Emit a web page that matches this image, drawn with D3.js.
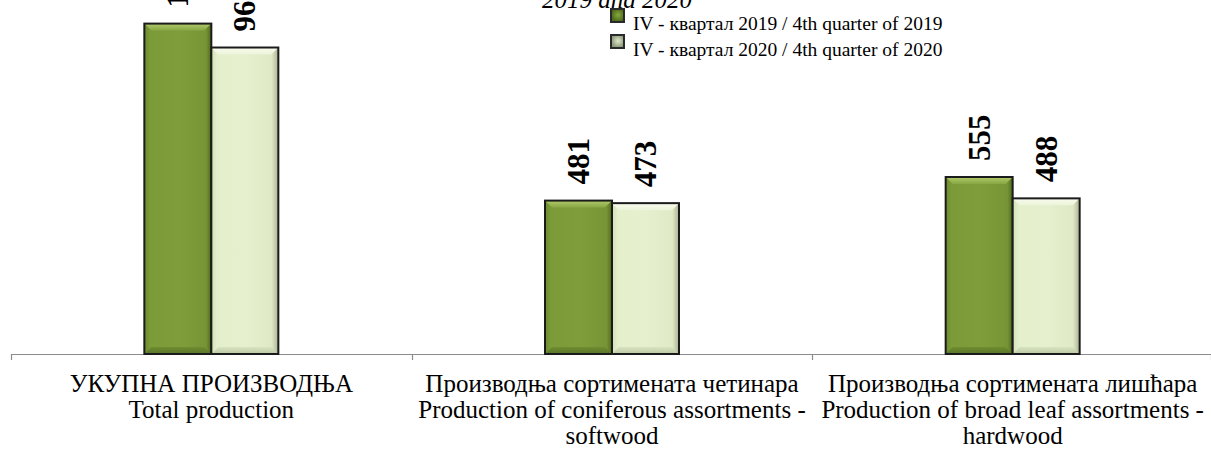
<!DOCTYPE html>
<html><head><meta charset="utf-8">
<script src="https://cdn.jsdelivr.net/npm/d3@7"></script>
<style>
html,body{margin:0;padding:0;background:#fff;}
svg{display:block;}
</style></head>
<body>
<svg id="chart" width="1211" height="451"></svg>
<script>
const categories = ["total", "conifer", "broadleaf"];
const categoryLines = [
  ["УКУПНА ПРОИЗВОДЊА", "Total production"],
  ["Производња сортимената четинара", "Production of coniferous assortments -", "softwood"],
  ["Производња сортимената лишћара", "Production of broad leaf assortments -", "hardwood"]
];
const seriesNames = ["IV - квартал 2019 / 4th quarter of 2019", "IV - квартал 2020 / 4th quarter of 2020"];
const values2019 = [1036, 481, 555];
const values2020 = [961, 473, 488];
const titleTail = "2019 and 2020";

const svg = d3.select("#chart");
const W = 1211, H = 451;
const baseY = 354;

const x0 = d3.scaleBand().domain(categories).range([11, 1213]).paddingInner(0).paddingOuter(0);
const x1 = d3.scaleBand().domain([0, 1]).range([0, x0.bandwidth()]).paddingInner(0).paddingOuter(1.99);
const y = d3.scaleLinear().domain([0, 1110]).range([baseY, 0]);

const defs = svg.append("defs");
function hgrad(id, stops) {
  const g = defs.append("linearGradient").attr("id", id).attr("x1", 0).attr("x2", 1).attr("y1", 0).attr("y2", 0);
  stops.forEach(s => g.append("stop").attr("offset", s[0]).attr("stop-color", s[1]));
}
function vgrad(id, stops) {
  const g = defs.append("linearGradient").attr("id", id).attr("x1", 0).attr("x2", 0).attr("y1", 0).attr("y2", 1);
  stops.forEach(s => g.append("stop").attr("offset", s[0]).attr("stop-color", s[1]));
}
hgrad("g2019", [[0, "#6b8a2c"], [0.08, "#7b9a38"], [0.5, "#7f9e3b"], [0.92, "#779535"], [1, "#4f6a1e"]]);
hgrad("g2020", [[0, "#d3e0b6"], [0.08, "#e4efcb"], [0.5, "#e6f0cf"], [0.9, "#dfe9c6"], [1, "#a9b294"]]);
vgrad("t2019", [[0, "#b0ca6a"], [1, "#88a744"]]);
vgrad("t2020", [[0, "#f8fcef"], [1, "#ecf4d9"]]);
vgrad("b2019", [[0, "#6f8d2f"], [1, "#58752a"]]);
vgrad("b2020", [[0, "#d8e3c0"], [1, "#bcc7a4"]]);

const series = [
  {name: seriesNames[0], values: values2019, fill: "url(#g2019)", top: "url(#t2019)", bot: "url(#b2019)"},
  {name: seriesNames[1], values: values2020, fill: "url(#g2020)", top: "url(#t2020)", bot: "url(#b2020)"}
];

// axis
const axisG = svg.append("g").attr("transform", `translate(0,${baseY})`);
axisG.append("line").attr("x1", x0.range()[0]).attr("x2", W).attr("y1", 0.5).attr("y2", 0.5)
  .attr("stroke", "#8c8c8c").attr("stroke-width", 1.2);
const tickXs = categories.map(c => x0(c)).concat([x0.range()[1] - 2]);
axisG.selectAll("line.tick").data(tickXs).enter().append("line")
  .attr("class", "tick")
  .attr("x1", d => Math.round(d) + 0.5).attr("x2", d => Math.round(d) + 0.5)
  .attr("y1", 0).attr("y2", 6).attr("stroke", "#8c8c8c").attr("stroke-width", 1.2);

// bars
const bevel = 7;
series.forEach((s, si) => {
  const g = svg.append("g");
  categories.forEach((c, ci) => {
    const v = s.values[ci];
    const bx = x0(c) + x1(si);
    const bw = x1.bandwidth();
    const by = y(v);
    const bh = baseY - by;
    const bar = g.append("g");
    bar.append("rect").attr("x", bx).attr("y", by).attr("width", bw).attr("height", bh)
      .attr("fill", s.fill);
    bar.append("path")
      .attr("d", `M${bx},${by} L${bx + bw},${by} L${bx + bw - bevel},${by + bevel} L${bx + bevel},${by + bevel} Z`)
      .attr("fill", s.top);
    bar.append("path")
      .attr("d", `M${bx},${baseY} L${bx + bw},${baseY} L${bx + bw - bevel},${baseY - bevel} L${bx + bevel},${baseY - bevel} Z`)
      .attr("fill", s.bot);
    bar.append("rect").attr("x", bx).attr("y", by).attr("width", bw).attr("height", bh)
      .attr("fill", "none").attr("stroke", "#1b1b1b").attr("stroke-width", 2);
    const cx = bx + bw / 2, ly = by - 16;
    g.append("text")
      .attr("transform", `translate(${cx},${ly}) rotate(-90)`)
      .attr("text-anchor", "start").attr("dy", "0.34em")
      .attr("font-family", "'Liberation Serif','Times New Roman',serif")
      .attr("font-weight", "bold").attr("font-size", 31).attr("fill", "#000")
      .text(v);
  });
});

// category labels
categories.forEach((c, ci) => {
  const cx = x0(c) + x0.bandwidth() / 2;
  const t = svg.append("text")
    .attr("text-anchor", "middle")
    .attr("font-family", "'Liberation Serif','Times New Roman',serif")
    .attr("font-size", 25).attr("fill", "#000");
  categoryLines[ci].forEach((line, li) => {
    t.append("tspan").attr("x", cx).attr("y", 392 + li * 26).text(line);
  });
});

// title tail (cut off at top)
svg.append("text").attr("x", 542).attr("y", 8)
  .attr("font-family", "'Liberation Serif','Times New Roman',serif")
  .attr("font-style", "italic").attr("font-size", 25).attr("fill", "#000")
  .text(titleTail);

// legend
const legendColors = [
  ["#4e6b1c", "#86a83c"],
  ["#8e9a7a", "#dfe8cc"]
];
seriesNames.forEach((name, i) => {
  const ly = 8 + i * 26;
  const lg = svg.append("g");
  const gid = "lg" + i;
  const rg = defs.append("radialGradient").attr("id", gid).attr("cx", 0.55).attr("cy", 0.45).attr("r", 0.6);
  rg.append("stop").attr("offset", 0).attr("stop-color", legendColors[i][1]);
  rg.append("stop").attr("offset", 1).attr("stop-color", legendColors[i][0]);
  lg.append("rect").attr("x", 610).attr("y", ly).attr("width", 15).attr("height", 15)
    .attr("fill", "#2a2a2a");
  lg.append("rect").attr("x", 612).attr("y", ly + 2).attr("width", 11).attr("height", 11)
    .attr("fill", `url(#${gid})`);
  lg.append("text").attr("x", 633).attr("y", ly + 22)
    .attr("font-family", "'Liberation Serif','Times New Roman',serif")
    .attr("font-size", 19.5).attr("fill", "#000").text(name);
});
</script>
</body></html>
